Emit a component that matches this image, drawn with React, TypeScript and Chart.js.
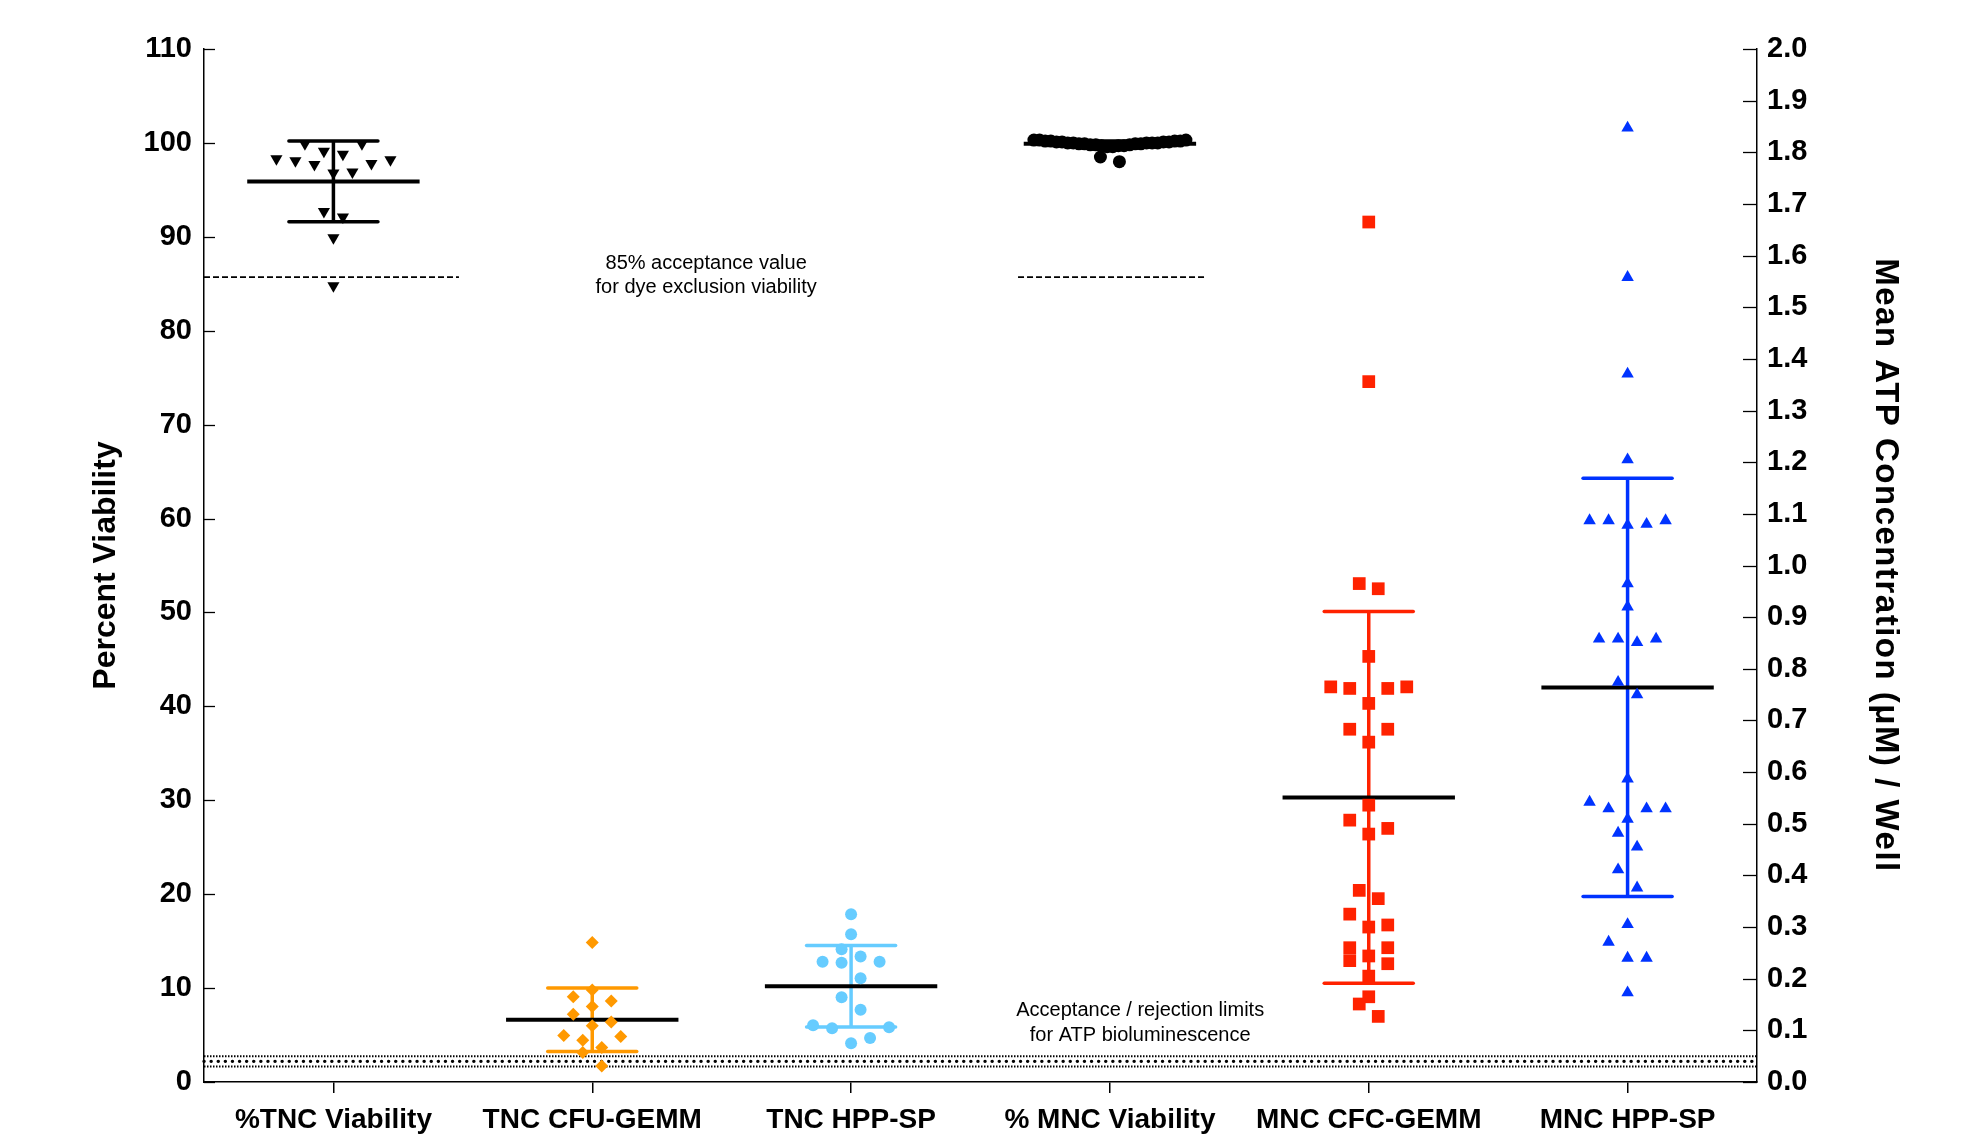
import React, { useEffect, useRef } from 'react';
import { Chart, registerables } from 'chart.js';

Chart.register(...registerables);

// ---------- DATA ----------
const categories = ['%TNC Viability', 'TNC CFU-GEMM', 'TNC HPP-SP', '% MNC Viability', 'MNC CFC-GEMM', 'MNC HPP-SP'];

// percent viability (left axis)
const tncViability = [99.9, 99.9, 98.2, 97.8, 98.8, 99.1, 97.7, 98.1, 98.3, 96.9, 96.8, 92.1, 92.7, 89.9, 84.8];
const mncViability = [
  100.3, 100.2, 100.1, 100.0, 99.9, 99.8, 99.7, 99.6,
  100.3, 100.2, 100.1, 100.0, 99.9, 99.8, 99.7, 99.6,
  100.3, 100.2, 100.1, 100.0, 99.9, 99.8, 99.7,
  100.2, 100.1, 100.0, 99.9, 100.0, 98.5, 98.0,
];

// ATP concentration, uM per well (right axis)
const tncCfuGemm = [0.270, 0.178, 0.165, 0.157, 0.146, 0.131, 0.116, 0.109, 0.090, 0.088, 0.081, 0.067, 0.057, 0.031];
const tncHppSp = [0.325, 0.286, 0.257, 0.243, 0.233, 0.231, 0.233, 0.201, 0.164, 0.140, 0.110, 0.104, 0.106, 0.075, 0.085];
const mncCfcGemm = [
  1.665, 1.356, 0.965, 0.955, 0.824, 0.765, 0.762, 0.762, 0.765, 0.733, 0.683, 0.683, 0.658,
  0.536, 0.507, 0.491, 0.480, 0.371, 0.355, 0.325, 0.300, 0.304, 0.260, 0.260, 0.235, 0.244,
  0.229, 0.205, 0.165, 0.151, 0.127,
];
const mncHppSp = [
  1.847, 1.558, 1.371, 1.205, 1.087, 1.087, 1.087, 1.080, 1.078, 0.965, 0.920, 0.858, 0.858,
  0.858, 0.851, 0.774, 0.750, 0.587, 0.542, 0.529, 0.529, 0.529, 0.509, 0.482, 0.455, 0.411,
  0.376, 0.305, 0.271, 0.240, 0.240, 0.173,
];

// group mean and standard deviation (in each series' own unit)
const groupMeans = [95.9, 0.1205, 0.1855, 99.9, 0.551, 0.764];
const groupSDs = [4.3, 0.0613, 0.079, 0.3, 0.36, 0.405];

// reference limits
const dyeAcceptance = 85.7; // percent
const atpLimits = [0.05, 0.04, 0.03]; // uM

// tick ranges
const leftMax = 110;
const leftStep = 10;
const rightMax = 2.0;
const rightStep = 0.1;

// texts
const leftTitle = 'Percent Viability';
const rightTitle = 'Mean ATP Concentration (\u03bcM) / Well';
const dyeNote = ['85% acceptance value', 'for dye exclusion viability'];
const atpNote = ['Acceptance / rejection limits', 'for ATP bioluminescence'];

// ---------- STYLE ----------
const FONT = '"Liberation Sans", Arial, Helvetica, sans-serif';
const SLOT = 19 / 258.8; // horizontal slot width in category units
const MAX_HALF = 4; // max half spread in slots
const PCT_PER_UM = leftMax / rightMax;

const seriesList = [
  { data: tncViability, axis: 'y', color: '#000000', style: 'triangle', rotation: 180, radius: 7, gap: 1.5 },
  { data: tncCfuGemm, axis: 'y2', color: '#FF9900', style: 'rectRot', rotation: 0, radius: 6.5, gap: 1.45 },
  { data: tncHppSp, axis: 'y2', color: '#66CCFF', style: 'circle', rotation: 0, radius: 6, gap: 1.95 },
  { data: mncViability, axis: 'y', color: '#000000', style: 'circle', rotation: 0, radius: 6.5, gap: 0.9 },
  { data: mncCfcGemm, axis: 'y2', color: '#FF2200', style: 'rect', rotation: 0, radius: 9, gap: 1.9 },
  { data: mncHppSp, axis: 'y2', color: '#0033FF', style: 'triangle', rotation: 0, radius: 7.2, gap: 2.0 },
];

// beeswarm: points close in value share a row and spread symmetrically
function swarmOffsets(vals: number[], gap: number): number[] {
  const order = vals.map((_, i) => i).sort((a, b) => vals[a] - vals[b]);
  const out = new Array(vals.length).fill(0);
  let i = 0;
  while (i < order.length) {
    const anchor = vals[order[i]];
    let j = i;
    while (j < order.length && vals[order[j]] - anchor <= gap + 1e-9) j++;
    const n = j - i;
    const slots: number[] = [];
    if (n % 2 === 1) slots.push(0);
    for (let s = n % 2 === 1 ? 1 : 0.5; slots.length < n; s += 1) slots.push(s, -s);
    const half = (n - 1) / 2;
    const k = half > MAX_HALF ? MAX_HALF / half : 1;
    for (let m = 0; m < n; m++) out[order[i + m]] = slots[m] * k;
    i = j;
  }
  return out;
}

const datasets = seriesList.map((s, i) => {
  const factor = s.axis === 'y2' ? PCT_PER_UM : 1;
  const offs = swarmOffsets(s.data.map((v) => v * factor), s.gap);
  return {
    label: categories[i],
    data: s.data.map((v, k) => ({ x: i + 1 + offs[k] * SLOT, y: v })),
    yAxisID: s.axis,
    pointStyle: s.style,
    pointRotation: s.rotation,
    pointRadius: s.radius,
    pointHoverRadius: s.radius,
    pointBackgroundColor: s.color,
    pointBorderColor: s.color,
    pointBorderWidth: 0,
    showLine: false,
  };
});

const dyeSpans = [[0.5, 1.485], [3.645, 4.375]];
const dyeNotePos = { x: 2.44, y: 87.2 };
const atpNotePos = { x: 4.117, y: 7.59 };

const decorPlugin = {
  id: 'decor',
  beforeDatasetsDraw(chart: any) {
    const { ctx, scales } = chart;
    const xs = scales.x;
    const ys = scales.y;
    const y2 = scales.y2;
    const line = (x1: number, yA: number, x2: number, yB: number) => {
      ctx.beginPath();
      ctx.moveTo(x1, yA);
      ctx.lineTo(x2, yB);
      ctx.stroke();
    };
    ctx.save();
    // ATP acceptance/rejection limits
    const xl = xs.getPixelForValue(0.5);
    const xr = xs.getPixelForValue(6.5);
    atpLimits.forEach((v, idx) => {
      const py = y2.getPixelForValue(v);
      ctx.strokeStyle = '#000';
      if (idx === 1) {
        ctx.lineWidth = 3.4;
        ctx.lineCap = 'round';
        ctx.setLineDash([0.1, 7]);
      } else {
        ctx.lineWidth = 2;
        ctx.lineCap = 'butt';
        ctx.setLineDash([1.5, 1.5]);
      }
      line(xl, py, xr, py);
    });
    // dye exclusion acceptance
    ctx.lineCap = 'butt';
    ctx.setLineDash([6, 3]);
    ctx.lineWidth = 1.8;
    ctx.strokeStyle = '#000';
    dyeSpans.forEach(([a, b]) => {
      const py = ys.getPixelForValue(dyeAcceptance);
      line(xs.getPixelForValue(a), py, xs.getPixelForValue(b), py);
    });
    ctx.setLineDash([]);
    // error bars and means
    seriesList.forEach((s, i) => {
      const sc = scales[s.axis];
      const cx = xs.getPixelForValue(i + 1);
      const capHalf = xs.getPixelForValue(i + 1 + 0.172) - cx;
      const meanHalf = xs.getPixelForValue(i + 1 + 0.333) - cx;
      const m = groupMeans[i];
      const sd = groupSDs[i];
      const pTop = sc.getPixelForValue(m + sd);
      const pBot = sc.getPixelForValue(m - sd);
      const pMean = sc.getPixelForValue(m);
      ctx.strokeStyle = s.color;
      ctx.lineWidth = 3.5;
      ctx.lineCap = 'butt';
      line(cx, pTop, cx, pBot);
      ctx.lineCap = 'round';
      line(cx - capHalf, pTop, cx + capHalf, pTop);
      line(cx - capHalf, pBot, cx + capHalf, pBot);
      ctx.strokeStyle = '#000';
      ctx.lineWidth = 4;
      ctx.lineCap = 'butt';
      line(cx - meanHalf, pMean, cx + meanHalf, pMean);
    });
    ctx.restore();
  },
  afterDraw(chart: any) {
    const { ctx, scales, chartArea } = chart;
    const xs = scales.x;
    const ys = scales.y;
    const y2 = scales.y2;
    ctx.save();
    // inside tick marks
    ctx.strokeStyle = '#000';
    ctx.lineWidth = 1.3;
    ys.ticks.forEach((t: any) => {
      const py = Math.round(ys.getPixelForValue(t.value)) + 0.5;
      ctx.beginPath();
      ctx.moveTo(chartArea.left, py);
      ctx.lineTo(chartArea.left + 11, py);
      ctx.stroke();
    });
    y2.ticks.forEach((t: any) => {
      const py = Math.round(y2.getPixelForValue(t.value)) + 0.5;
      ctx.beginPath();
      ctx.moveTo(chartArea.right - 14, py);
      ctx.lineTo(chartArea.right, py);
      ctx.stroke();
    });
    // notes
    ctx.fillStyle = '#000';
    ctx.font = '20px ' + FONT;
    ctx.textAlign = 'center';
    ctx.textBaseline = 'middle';
    const drawNote = (lines: string[], pos: { x: number; y: number }) => {
      const px = xs.getPixelForValue(pos.x);
      const py = ys.getPixelForValue(pos.y);
      lines.forEach((l, k) => ctx.fillText(l, px, py + k * 24.5));
    };
    drawNote(dyeNote, dyeNotePos);
    drawNote(atpNote, atpNotePos);
    // axis titles
    const midY = (chartArea.top + chartArea.bottom) / 2;
    ctx.textBaseline = 'alphabetic';
    ctx.font = 'bold 32px ' + FONT;
    ctx.save();
    ctx.translate(115, midY);
    ctx.rotate(-Math.PI / 2);
    ctx.fillText(leftTitle, 0, 0);
    ctx.restore();
    ctx.save();
    ctx.font = 'bold 33px ' + FONT;
    try { (ctx as any).letterSpacing = '1.5px'; } catch (e) { /* ignore */ }
    ctx.translate(1876, midY);
    ctx.rotate(Math.PI / 2);
    ctx.fillText(rightTitle, 0, 0);
    ctx.restore();
    ctx.restore();
  },
};

export default function App() {
  const ref = useRef<HTMLCanvasElement | null>(null);
  useEffect(() => {
    if (!ref.current) return;
    Chart.defaults.font.family = FONT;
    Chart.defaults.color = '#000';
    const chart = new Chart(ref.current, {
      type: 'scatter',
      data: { datasets: datasets as any },
      plugins: [decorPlugin],
      options: {
        animation: false,
        responsive: false,
        events: [],
        layout: { padding: { top: 49, left: 0, right: 0, bottom: 0 } },
        plugins: {
          legend: { display: false },
          tooltip: { enabled: false },
          title: { display: false },
        },
        scales: {
          x: {
            type: 'linear',
            min: 0.5,
            max: 6.5,
            afterBuildTicks: (s: any) => {
              s.ticks = categories.map((_, i) => ({ value: i + 1 }));
            },
            afterFit: (s: any) => {
              s.height = 53;
            },
            ticks: {
              callback: (v: any) => categories[Math.round(Number(v)) - 1] ?? '',
              font: { size: 28, weight: 'bold' },
              color: '#000',
              padding: 10,
              autoSkip: false,
              maxRotation: 0,
              minRotation: 0,
            },
            grid: { display: true, drawOnChartArea: false, drawTicks: true, tickLength: 11, color: '#000', lineWidth: 1.5 },
            border: { display: true, color: '#000', width: 1.5 },
          },
          y: {
            type: 'linear',
            position: 'left',
            min: 0,
            max: leftMax,
            afterFit: (s: any) => {
              s.width = 204;
            },
            ticks: { stepSize: leftStep, font: { size: 29, weight: 'bold' }, color: '#000', padding: 12, autoSkip: false },
            grid: { display: false, drawTicks: false },
            border: { display: true, color: '#000', width: 1.5 },
          },
          y2: {
            type: 'linear',
            position: 'right',
            min: 0,
            max: rightMax,
            afterFit: (s: any) => {
              s.width = 208;
            },
            ticks: {
              stepSize: rightStep,
              callback: (v: any) => Number(v).toFixed(1),
              font: { size: 29, weight: 'bold' },
              color: '#000',
              padding: 10,
              autoSkip: false,
            },
            grid: { display: false, drawTicks: false },
            border: { display: true, color: '#000', width: 1.5 },
          },
        },
      } as any,
    });
    return () => chart.destroy();
  }, []);
  return (
    <div style={{ position: 'fixed', left: 0, top: 0, width: 1965, height: 1135, background: '#fff' }}>
      <canvas ref={ref} width={1965} height={1135} style={{ display: 'block', width: 1965, height: 1135 }} />
    </div>
  );
}
